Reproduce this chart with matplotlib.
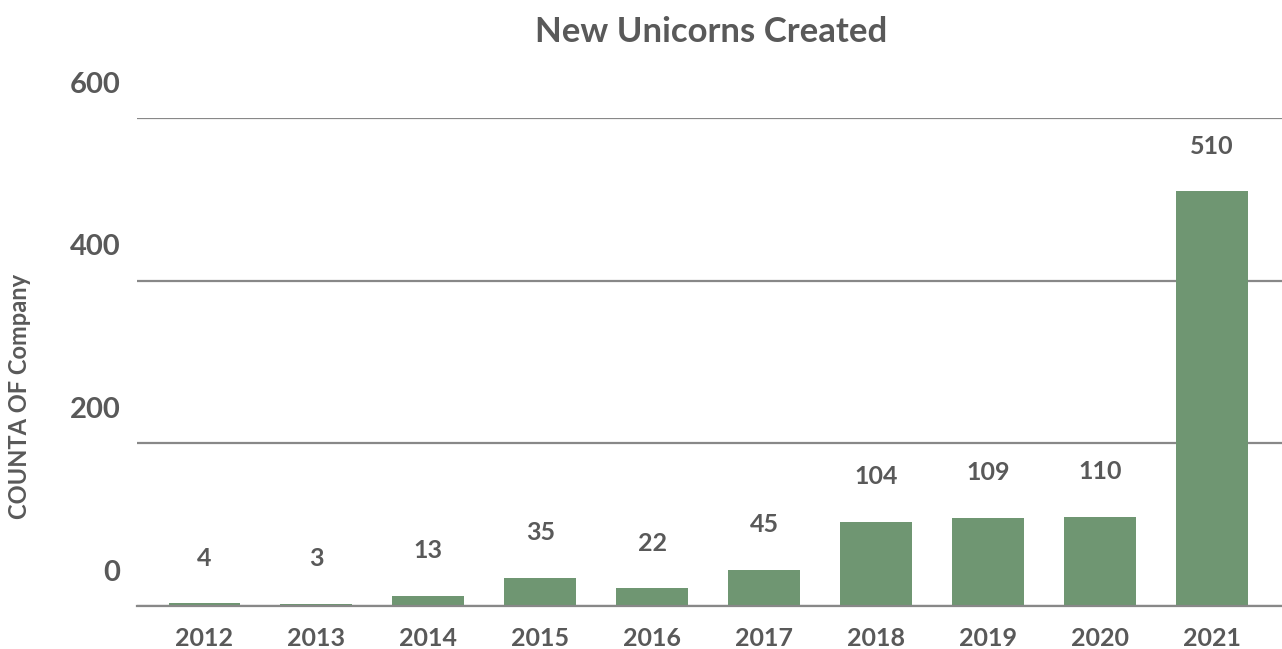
import matplotlib.pyplot as plt
import matplotlib.transforms as mtransforms

years = ['2012', '2013', '2014', '2015', '2016', '2017', '2018', '2019', '2020', '2021']
counts = [4, 3, 13, 35, 22, 45, 104, 109, 110, 510]
y_ticks = [0, 200, 400, 600]

text_color = '#595959'
bar_color = '#6f9672'
grid_color = '#888888'

plt.rcParams['font.family'] = ['Lato', 'DejaVu Sans']
plt.rcParams['font.weight'] = 'bold'

fig = plt.figure(figsize=(12.82, 6.49), dpi=100)
ax = fig.add_axes([0.107, 0.066, 0.893, 0.752])

x = list(range(len(years)))
ax.bar(x, counts, width=0.64, color=bar_color, zorder=3)

# value labels above the bars
for xi, v in zip(x, counts):
    ax.annotate(str(v), (xi, v), xytext=(0, 24), textcoords='offset points',
                ha='center', va='bottom', fontsize=18, color=text_color,
                fontweight='bold')

ax.set_xlim(-0.6, 9.625)
ax.set_ylim(0, 600)
ax.set_yticks(y_ticks)
ax.set_xticks(x)
ax.set_xticklabels(years)

# horizontal gridlines
ax.yaxis.grid(True, color=grid_color, linewidth=1.6, zorder=0)
ax.xaxis.grid(False)
for s in ['top', 'right', 'left']:
    ax.spines[s].set_visible(False)
ax.spines['bottom'].set_color(grid_color)
ax.spines['bottom'].set_linewidth(1.6)
ax.spines['bottom'].set_zorder(4)

ax.tick_params(axis='both', length=0, colors=text_color)
ax.tick_params(axis='x', labelsize=18, pad=15)
ax.tick_params(axis='y', labelsize=21, pad=12)

# the y labels sit above their gridlines in the reference
offset = mtransforms.ScaledTranslation(0, 26 / 72, fig.dpi_scale_trans)
for lbl in ax.get_yticklabels():
    lbl.set_transform(lbl.get_transform() + offset)
    lbl.set_fontweight('bold')
for lbl in ax.get_xticklabels():
    lbl.set_fontweight('bold')

ax.set_ylabel('COUNTA OF Company', fontsize=17, color=text_color,
              fontweight='bold')
ax.yaxis.set_label_coords(-0.093, 0.43)
fig.suptitle('New Unicorns Created', x=0.555, y=0.975, fontsize=25,
             color=text_color, fontweight='bold')

plt.savefig('out.png', dpi=100)
